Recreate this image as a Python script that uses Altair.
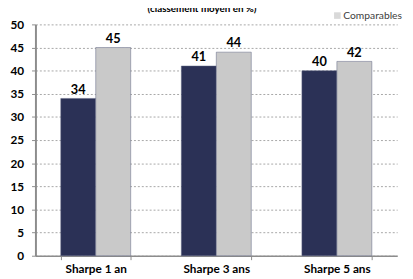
import altair as alt
import pandas as pd

categories = ["Sharpe 1 an", "Sharpe 3 ans", "Sharpe 5 ans"]
series = ["Fonds", "Comparables"]
fonds = [34, 41, 40]
comparables = [45, 44, 42]

rows = []
for c, f, k in zip(categories, fonds, comparables):
    rows.append({"cat": c, "serie": "Fonds", "val": f})
    rows.append({"cat": c, "serie": "Comparables", "val": k})
df = pd.DataFrame(rows)

FONT = "Lato"
color = alt.Color("serie:N", scale=alt.Scale(domain=series, range=["#2B3156", "#C9C9C9"]), legend=None)
x = alt.X("cat:N", sort=categories, title=None,
          scale=alt.Scale(paddingInner=0.42, paddingOuter=0.21),
          axis=alt.Axis(labelFont=FONT, labelFontWeight="bold", labelFontSize=12, labelColor="#000",
                        labelAngle=0, labelPadding=4, domainColor="#8C8C8C", domainWidth=1.5,
                        tickColor="#8C8C8C", tickBand="extent", tickSize=4, grid=False))
xo = alt.XOffset("serie:N", sort=series, scale=alt.Scale(paddingInner=0))
y = alt.Y("val:Q", title=None, scale=alt.Scale(domain=[0, 50]),
          axis=alt.Axis(values=list(range(0, 55, 5)), labelFont=FONT, labelFontWeight="bold",
                        labelFontSize=12, labelColor="#000", labelPadding=8,
                        domainColor="#8C8C8C", domainWidth=2, tickColor="#8C8C8C", tickSize=4,
                        gridColor="#A6A6A6", gridDash=[2, 2], gridWidth=1))

bars = alt.Chart(df).mark_bar(stroke="#5A6080", strokeWidth=0.5).encode(x=x, xOffset=xo, y=y, color=color)
labels = alt.Chart(df).mark_text(dy=-9, font=FONT, fontWeight="bold", fontSize=13, color="#000").encode(
    x=x, xOffset=xo, y=y, text=alt.Text("val:Q"))

leg_sq = alt.Chart(pd.DataFrame({"t": ["Comparables"]})).mark_square(size=45, color="#C9C9C9").encode(
    x=alt.value(308), y=alt.value(-9))
leg_tx = alt.Chart(pd.DataFrame({"t": ["Comparables"]})).mark_text(
    align="left", baseline="middle", font=FONT, fontSize=10.5, color="#404040").encode(
    x=alt.value(314), y=alt.value(-9), text="t:N")
title = alt.Chart(pd.DataFrame({"t": ["(classement moyen en %)"]})).mark_text(
    align="center", baseline="bottom", font=FONT, fontWeight="bold", fontSize=10, color="#000").encode(
    x=alt.value(170), y=alt.value(-11), text="t:N")

chart = alt.layer(bars, labels, leg_sq, leg_tx, title).properties(
    width=369, height=236,
    autosize=alt.AutoSizeParams(type="none"),
    padding={"left": 28, "top": 14, "right": 8, "bottom": 21},
).configure_view(stroke=None)

chart.save("out.html", embed_options={"renderer": "svg", "actions": False})
